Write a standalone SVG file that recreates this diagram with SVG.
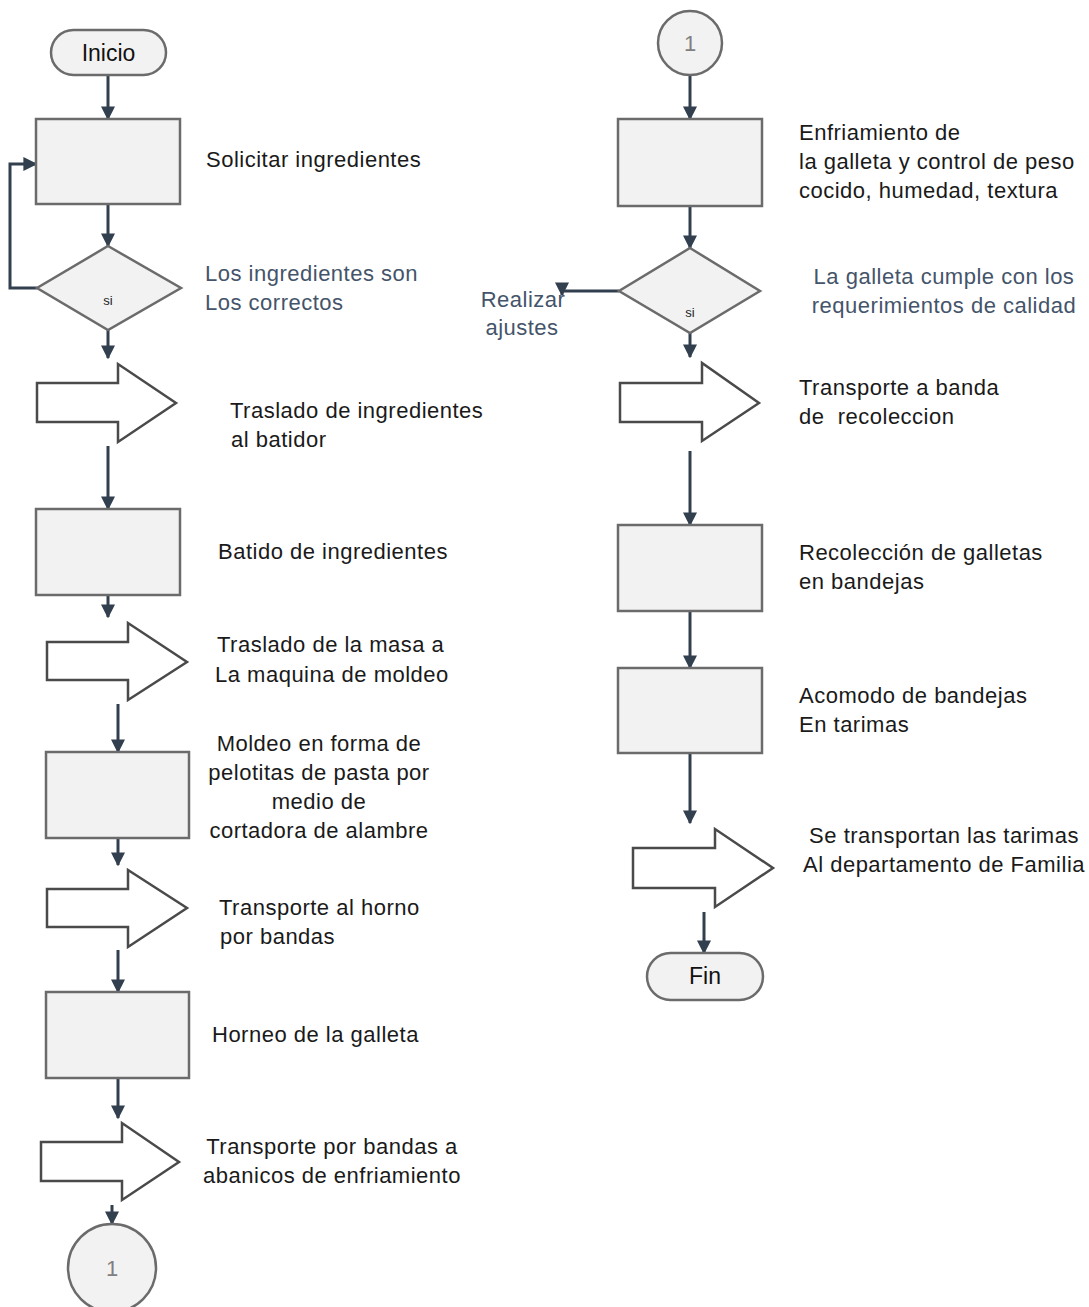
<svg xmlns="http://www.w3.org/2000/svg" width="1089" height="1307" viewBox="0 0 1089 1307">
<style>
.box{fill:#f2f2f2;stroke:#6b6b6b;stroke-width:2.5}
.term{fill:#f2f2f2;stroke:#6b6b6b;stroke-width:2.5}
.barrow{fill:#ffffff;stroke:#4a4a4a;stroke-width:2.5;stroke-linejoin:miter}
.con{fill:none;stroke:#323f4f;stroke-width:3}
.t{font-family:"Liberation Sans",Arial,sans-serif;font-size:22px;letter-spacing:0.5px;fill:#1a1a1a}
.q{font-family:"Liberation Sans",Arial,sans-serif;font-size:22px;letter-spacing:0.5px;fill:#44546a}
.lab{font-family:"Liberation Sans",Arial,sans-serif;font-size:23px;fill:#111}
.si{font-family:"Liberation Sans",Arial,sans-serif;font-size:13px;fill:#222}
.num{font-family:"Liberation Sans",Arial,sans-serif;font-size:22px;fill:#808080}
</style>
<defs>
<marker id="ah" viewBox="0 0 10 10" refX="9" refY="5" markerWidth="14" markerHeight="14" markerUnits="userSpaceOnUse" orient="auto">
<path d="M0,0 L10,5 L0,10 z" fill="#323f4f"/>
</marker>
</defs>
<rect width="1089" height="1307" fill="#ffffff"/>

<g id="connectors">
<path class="con" d="M108,75 V119" marker-end="url(#ah)"/>
<path class="con" d="M108,204 V246" marker-end="url(#ah)"/>
<path class="con" d="M37,288 H10 V164 H36" marker-end="url(#ah)"/>
<path class="con" d="M108,330 V358" marker-end="url(#ah)"/>
<path class="con" d="M108,446 V509" marker-end="url(#ah)"/>
<path class="con" d="M108,595 V617" marker-end="url(#ah)"/>
<path class="con" d="M118,704 V752" marker-end="url(#ah)"/>
<path class="con" d="M118,838 V865" marker-end="url(#ah)"/>
<path class="con" d="M118,950 V992" marker-end="url(#ah)"/>
<path class="con" d="M118,1078 V1118" marker-end="url(#ah)"/>
<path class="con" d="M112,1205 V1224" marker-end="url(#ah)"/>
<path class="con" d="M690,75 V119" marker-end="url(#ah)"/>
<path class="con" d="M690,206 V248" marker-end="url(#ah)"/>
<path class="con" d="M619,291 H562 V295" marker-end="url(#ah)"/>
<path class="con" d="M690,333 V357" marker-end="url(#ah)"/>
<path class="con" d="M690,451 V525" marker-end="url(#ah)"/>
<path class="con" d="M690,611 V668" marker-end="url(#ah)"/>
<path class="con" d="M690,753 V823" marker-end="url(#ah)"/>
<path class="con" d="M704,912 V953" marker-end="url(#ah)"/>
</g>

<g id="inicio">
<rect class="term" x="51" y="30" width="115" height="45" rx="22.5"/>
<text class="lab" x="108.5" y="60.5" text-anchor="middle">Inicio</text>
</g>

<g id="solicitar">
<rect class="box" x="36" y="119" width="144" height="85"/>
<text class="t" x="206" y="167">Solicitar ingredientes</text>
</g>

<g id="decision1">
<polygon class="box" points="108,246 181,288 108,330 37,288"/>
<text class="si" x="108" y="305" text-anchor="middle">si</text>
<text class="q" x="205" y="281">Los ingredientes son</text>
<text class="q" x="205" y="310">Los correctos</text>
</g>

<g id="traslado1">
<polygon class="barrow" points="37,383 118,383 118,364 176,403 118,442 118,422 37,422"/>
<text class="t" x="230" y="418">Traslado de ingredientes</text>
<text class="t" x="231" y="447">al batidor</text>
</g>

<g id="batido">
<rect class="box" x="36" y="509" width="144" height="86"/>
<text class="t" x="218" y="559">Batido de ingredientes</text>
</g>

<g id="traslado2">
<polygon class="barrow" points="47,642 128,642 128,623 187,662 128,700 128,680 47,680"/>
<text class="t" x="217" y="652">Traslado de la masa a</text>
<text class="t" x="215" y="682">La maquina de moldeo</text>
</g>

<g id="moldeo">
<rect class="box" x="46" y="752" width="143" height="86"/>
<text class="t" x="319" y="751" text-anchor="middle">Moldeo en forma de</text>
<text class="t" x="319" y="780" text-anchor="middle">pelotitas de pasta por</text>
<text class="t" x="319" y="809" text-anchor="middle">medio de</text>
<text class="t" x="319" y="838" text-anchor="middle">cortadora de alambre</text>
</g>

<g id="transporte1">
<polygon class="barrow" points="47,889 128,889 128,870 187,908 128,947 128,927 47,927"/>
<text class="t" x="219" y="915">Transporte al horno</text>
<text class="t" x="220" y="944">por bandas</text>
</g>

<g id="horneo">
<rect class="box" x="46" y="992" width="143" height="86"/>
<text class="t" x="212" y="1042">Horneo de la galleta</text>
</g>

<g id="transporte2">
<polygon class="barrow" points="41,1142 122,1142 122,1123 179,1162 122,1200 122,1181 41,1181"/>
<text class="t" x="332" y="1154" text-anchor="middle">Transporte por bandas a</text>
<text class="t" x="332" y="1183" text-anchor="middle">abanicos de enfriamiento</text>
</g>

<g id="conector1a">
<circle class="term" cx="112" cy="1268" r="44"/>
<text class="num" x="112" y="1276" text-anchor="middle">1</text>
</g>

<g id="conector1b">
<circle class="term" cx="690" cy="43" r="32"/>
<text class="num" x="690" y="51" text-anchor="middle">1</text>
</g>

<g id="enfriamiento">
<rect class="box" x="618" y="119" width="144" height="87"/>
<text class="t" x="799" y="140">Enfriamiento de</text>
<text class="t" x="799" y="169">la galleta y control de peso</text>
<text class="t" x="799" y="198">cocido, humedad, textura</text>
</g>

<g id="decision2">
<polygon class="box" points="690,248 760,291 690,333 619,291"/>
<text class="si" x="690" y="317" text-anchor="middle">si</text>
<text class="q" x="944" y="284" text-anchor="middle">La galleta cumple con los</text>
<text class="q" x="944" y="313" text-anchor="middle">requerimientos de calidad</text>
<text class="q" x="523" y="307" text-anchor="middle">Realizar</text>
<text class="q" x="522" y="335" text-anchor="middle">ajustes</text>
</g>

<g id="transporte3">
<polygon class="barrow" points="620,383 702,383 702,363 759,403 702,441 702,422 620,422"/>
<text class="t" x="799" y="395">Transporte a banda</text>
<text class="t" x="799" y="424" xml:space="preserve">de  recoleccion</text>
</g>

<g id="recoleccion">
<rect class="box" x="618" y="525" width="144" height="86"/>
<text class="t" x="799" y="560">Recolección de galletas</text>
<text class="t" x="799" y="589">en bandejas</text>
</g>

<g id="acomodo">
<rect class="box" x="618" y="668" width="144" height="85"/>
<text class="t" x="799" y="703">Acomodo de bandejas</text>
<text class="t" x="799" y="732">En tarimas</text>
</g>

<g id="transporte4">
<polygon class="barrow" points="633,848 715,848 715,829 773,868 715,907 715,888 633,888"/>
<text class="t" x="944" y="843" text-anchor="middle">Se transportan las tarimas</text>
<text class="t" x="944" y="872" text-anchor="middle">Al departamento de Familia</text>
</g>

<g id="fin">
<rect class="term" x="647" y="953" width="116" height="47" rx="23.5"/>
<text class="lab" x="705" y="984" text-anchor="middle">Fin</text>
</g>
</svg>
